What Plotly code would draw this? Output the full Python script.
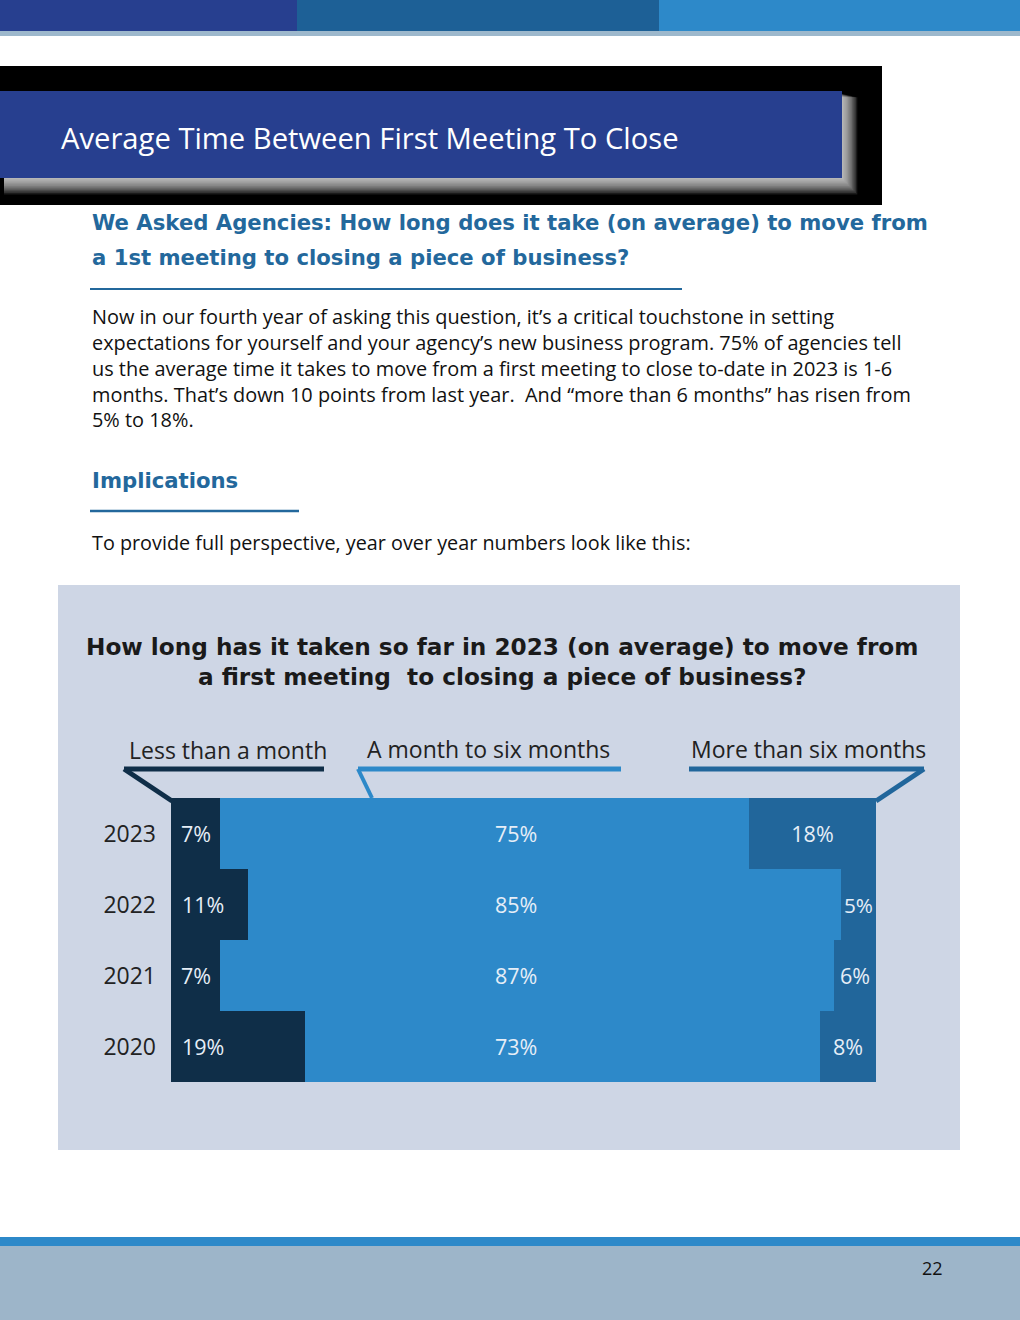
import plotly.graph_objects as go

W, H = 1020, 1320

years = ["2023", "2022", "2021", "2020"]
less_month = [7, 11, 7, 19]
month_six = [75, 85, 87, 73]
more_six = [18, 5, 6, 8]
series_names = ["Less than a month", "A month to six months", "More than six months"]

page_title = "Average Time Between First Meeting To Close"
heading_lines = ["We Asked Agencies: How long does it take (on average) to move from",
                 "a 1st meeting to closing a piece of business?"]
para_lines = [
    "Now in our fourth year of asking this question, it\u2019s a critical touchstone in setting",
    "expectations for yourself and your agency\u2019s new business program. 75% of agencies tell",
    "us the average time it takes to move from a first meeting to close to-date in 2023 is 1-6",
    "months. That\u2019s down 10 points from last year.  And \u201cmore than 6 months\u201d has risen from",
    "5% to 18%.",
]
implications = "Implications"
perspective = "To provide full perspective, year over year numbers look like this:"
chart_title_lines = ["How long has it taken so far in 2023 (on average) to move from",
                     "a first meeting  to closing a piece of business?"]
page_number = "22"

C_DARK = "#0f2e48"
C_MID = "#2d89c9"
C_RIGHT = "#21669b"
C_NAVY = "#273f8f"
C_HEAD = "#23689c"
LABEL_C = "#e6eef7"
HEAD_FONT = "DejaVu Sans"


def px(x):
    return x / W


def py(y):
    return 1 - y / H


shapes = []
annotations = []


def rect(x0, y0, x1, y1, color, opacity=1.0, layer="below"):
    shapes.append(dict(type="rect", xref="paper", yref="paper",
                       x0=px(x0), x1=px(x1), y0=py(y1), y1=py(y0),
                       fillcolor=color, line=dict(width=0), opacity=opacity, layer=layer))


def line(x0, y0, x1, y1, color, width):
    shapes.append(dict(type="line", xref="paper", yref="paper",
                       x0=px(x0), x1=px(x1), y0=py(y0), y1=py(y1),
                       line=dict(color=color, width=width), layer="below"))


def text(x, y, s, size, color="#111111", family="Open Sans", weight="normal",
         xanchor="left", align="left"):
    annotations.append(dict(xref="paper", yref="paper", x=px(x), y=py(y), text=s,
                            showarrow=False, xanchor=xanchor, yanchor="middle", align=align,
                            font=dict(size=size, color=color, family=family, weight=weight)))


# top band
rect(0, 0, 297, 31, C_NAVY)
rect(297, 0, 659, 31, "#1d6096")
rect(659, 0, 1020, 31, C_MID)
rect(0, 31, 1020, 36, "#9db8cc")

# title block with glow
rect(0, 66, 882, 205, "#000000")
for i in range(12):
    rect(4, 94 + 0.3 * i, 843 + 1.3 * i, 179 + 1.4 * i, "#f2f2f2", opacity=0.11)
rect(0, 91, 842, 178, C_NAVY)
text(59, 138, page_title, 29.2, color="#ffffff")

# headings and body
text(90, 222, heading_lines[0], 21.2, color=C_HEAD, family=HEAD_FONT, weight="bold")
text(90, 257, heading_lines[1], 21.2, color=C_HEAD, family=HEAD_FONT, weight="bold")
line(90, 289, 682, 289, C_HEAD, 2)
text(90, 368, "<br>".join(para_lines), 19.9)
text(90, 480, implications, 21.2, color=C_HEAD, family=HEAD_FONT, weight="bold")
line(90, 511, 299, 511, C_HEAD, 2.5)
text(90, 542, perspective, 19.8)

# chart panel
rect(58, 585, 960, 1150, "#ced6e5")
text(502, 662, "<br>".join(chart_title_lines), 23.2, color="#1a1a1a", family=HEAD_FONT,
     weight="bold", xanchor="center", align="center")

# legend headers with brackets
text(127, 750, series_names[0], 23, color="#222222")
text(365, 749, series_names[1], 23, color="#222222")
text(689, 749, series_names[2], 23, color="#222222")
line(124, 769, 324, 769, C_DARK, 5)
line(124, 769, 172, 801, C_DARK, 5)
line(358, 769, 621, 769, C_MID, 5)
line(358, 769, 372, 798, C_MID, 4)
line(689, 769, 924, 769, C_RIGHT, 5)
line(924, 769, 876, 801, C_RIGHT, 5)

# footer
rect(0, 1237, 1020, 1246, C_MID)
rect(0, 1246, 1020, 1320, "#9db5c9")
text(932, 1268, page_number, 18, color="#111111", xanchor="center")

fig = go.Figure()
fig.add_trace(go.Bar(y=years, x=less_month, orientation="h", name=series_names[0],
                     marker=dict(color=C_DARK, line=dict(width=0)), hoverinfo="x+y"))
fig.add_trace(go.Bar(y=years, x=month_six, orientation="h", name=series_names[1],
                     marker=dict(color=C_MID, line=dict(width=0)), hoverinfo="x+y"))
fig.add_trace(go.Bar(y=years, x=more_six, orientation="h", name=series_names[2],
                     text=[f"{v}%" for v in more_six], textposition="inside",
                     insidetextanchor="middle", textangle=0, constraintext="inside",
                     textfont=dict(size=21.5, color=LABEL_C, family="Open Sans"),
                     marker=dict(color=C_RIGHT, line=dict(width=0)), hoverinfo="x+y"))

cat_order = years[::-1]
for yr, a, b in zip(years, less_month, month_six):
    idx = cat_order.index(yr)
    annotations.append(dict(xref="x", yref="y", x=min(a / 2, 4.6), y=idx, text=f"{a}%",
                            showarrow=False, xanchor="center", yanchor="middle",
                            font=dict(size=21.5, color=LABEL_C, family="Open Sans")))
    annotations.append(dict(xref="x", yref="y", x=49, y=idx, text=f"{b}%",
                            showarrow=False, xanchor="center", yanchor="middle",
                            font=dict(size=21.5, color=LABEL_C, family="Open Sans")))

fig.update_layout(
    width=W, height=H, margin=dict(l=0, r=0, t=0, b=0),
    paper_bgcolor="#ffffff", plot_bgcolor="rgba(0,0,0,0)",
    barmode="stack", barnorm="percent", bargap=0, showlegend=False,
    xaxis=dict(domain=[px(171), px(876)], range=[0, 100], visible=False, fixedrange=True),
    yaxis=dict(domain=[py(1082), py(798)], type="category",
               categoryorder="array", categoryarray=cat_order,
               range=[-0.5, len(years) - 0.5], fixedrange=True,
               showgrid=False, zeroline=False, showline=False, ticks="",
               ticklabelstandoff=14,
               tickfont=dict(size=23, color="#222222", family="Open Sans")),
    shapes=shapes, annotations=annotations,
)

fig.write_html("out.html", config={"displayModeBar": False},
               post_script="document.body.style.margin='0';document.body.style.overflow='hidden';")
